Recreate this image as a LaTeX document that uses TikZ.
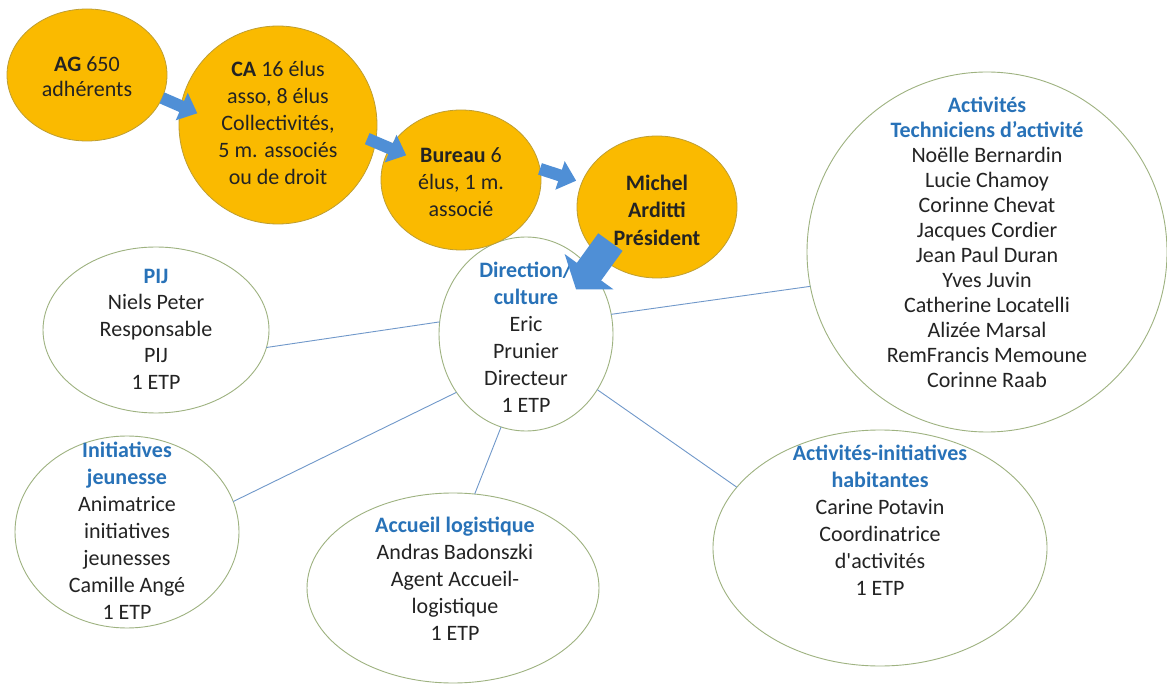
\documentclass[tikz,border=0pt]{standalone}
\usepackage{fontspec}
\setmainfont{Carlito}[Ligatures=TeXOff]
\usetikzlibrary{shapes.geometric,arrows.meta}

\definecolor{gold}{RGB}{250,186,0}
\definecolor{goldline}{RGB}{190,158,50}
\definecolor{unitline}{RGB}{158,178,128}
\definecolor{linkblue}{RGB}{112,152,202}
\definecolor{arrowblue}{RGB}{79,143,214}
\definecolor{titleblue}{RGB}{40,114,184}
\definecolor{ink}{RGB}{35,35,35}

\newcommand{\ttl}[1]{\textcolor{titleblue}{\textbf{#1}}}

\begin{document}
\begin{tikzpicture}[x=1pt,y=1pt,
	gold/.style={ellipse, draw=goldline, fill=gold, line width=0.8pt, inner sep=0pt, outer sep=0pt},
	unit/.style={ellipse, draw=unitline, fill=white, line width=0.9pt, inner sep=0pt, outer sep=0pt},
	txt/.style={align=center, text=ink, inner sep=0pt, font=\fontsize{22}{27}\selectfont},
	link/.style={draw=linkblue, line width=0.9pt},
	blockarrow/.style={draw=arrowblue, line width=12pt, -{Triangle[width=29pt,length=17pt]}},
	bigarrow/.style={draw=arrowblue, line width=30pt, -{Triangle[width=59pt,length=22pt]}}]
	
	\fill[white] (0,0) rectangle (1167,-684);
	\useasboundingbox (0,0) rectangle (1167,-684);
	
	% services
	\foreach \n/\x/\y/\rx/\ry in {PIJ/156/330/113/83, Init/127/532/112/96, Acc/453/588/146/95,
		AI/880/548/167/118, Act/987/252/180/180, Dir/526/334/87/97}
	\node[unit, minimum width=2*\rx, minimum height=2*\ry] (\n) at (\x,-\y) {};
	
	% instances
	\foreach \n/\x/\y/\rx/\ry in {AG/87/75/80/66, CA/278/125/99/99, Bureau/461/180/80/70, Michel/657/207/80/71}
	\node[gold, minimum width=2*\rx, minimum height=2*\ry] (\n) at (\x,-\y) {};
	
	\node[txt, font=\fontsize{22}{25}\selectfont] (AGT) at (87,-77) {\textbf{AG} 650\\adhérents};
	\node[txt] (CAT) at (278,-123) {\textbf{CA} 16 élus\\asso, 8 élus\\Collectivités,\\5 m. associés\\ou de droit};
	\node[txt] (BureauT) at (461,-182) {\textbf{Bureau} 6\\élus, 1 m.\\associé};
	\node[txt, font=\fontsize{22}{27.5}\selectfont\bfseries] (MichelT) at (657,-210) {Michel\\Arditti\\Président};
	
	\node[txt] (DirT) at (526,-337) {\ttl{Direction/}\\\ttl{culture}\\Eric\\Prunier\\Directeur\\1 ETP};
	\node[txt, font=\fontsize{22}{25}\selectfont] (ActT) at (987,-242) {\ttl{Activités}\\\ttl{Techniciens d’activité}\\
		Noëlle Bernardin\\Lucie Chamoy\\Corinne Chevat\\Jacques Cordier\\Jean Paul Duran\\Yves Juvin\\
		Catherine Locatelli\\Alizée Marsal\\RemFrancis Memoune\\Corinne Raab};
	\node[txt, font=\fontsize{22}{26.5}\selectfont] (PIJT) at (156,-329) {\ttl{PIJ}\\Niels Peter\\Responsable\\PIJ\\1 ETP};
	\node[txt] (InitT) at (127,-531) {\ttl{Initiatives}\\\ttl{jeunesse}\\Animatrice\\initiatives\\jeunesses\\Camille Angé\\1 ETP};
	\node[txt] (AccT) at (455,-579) {\ttl{Accueil logistique}\\Andras Badonszki\\Agent Accueil-\\logistique\\1 ETP};
	\node[txt] (AIT) at (880,-520) {\ttl{Activités-initiatives}\\\ttl{habitantes}\\Carine Potavin\\Coordinatrice\\d'activités\\1 ETP};
	
	% liens
	\draw[link] (PIJ.-9) -- (Dir.172);
	\draw[link] (Dir.13) -- (Act.191);
	\draw[link] (Init.16) -- (Dir.220);
	\draw[link] (Dir.255) -- (Acc.77);
	\draw[link] (Dir.-38) -- (AI.157);
	
	% fleches
	\draw[blockarrow, shorten >=-18pt] (AG.-17) -- (CA.169);
	\draw[blockarrow, shorten <=-9pt, shorten >=-18pt] (CA.-10) -- (Bureau.156);
	\draw[blockarrow, shorten >=6pt] (Bureau.8) -- (Michel.162);
	\draw[bigarrow, shorten <=-18pt, shorten >=-25pt] (Michel.221) -- (Dir.45);
\end{tikzpicture}
\end{document}
